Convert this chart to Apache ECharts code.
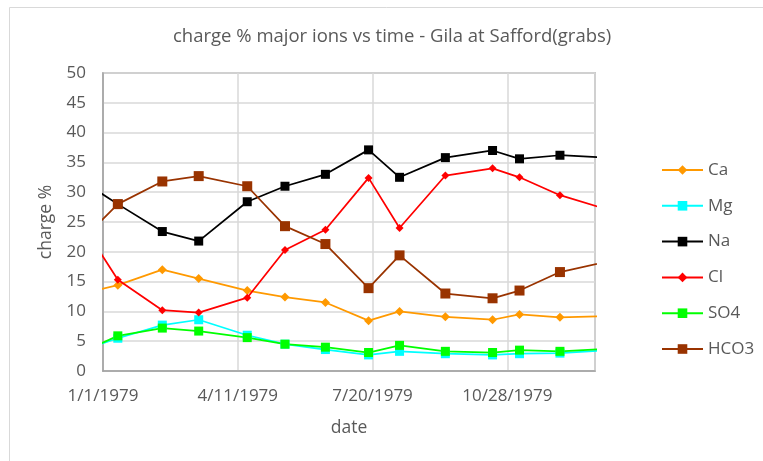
<!DOCTYPE html>
<html>
<head>
<meta charset="utf-8">
<script src="https://cdn.jsdelivr.net/npm/echarts@6/dist/echarts.min.js"></script>
<style>
html,body{margin:0;padding:0;background:#fff;}
#chart{width:763px;height:461px;}
</style>
</head>
<body>
<div id="chart"></div>
<script>
// ---- data ----
const dates = ['1978-12-13','1979-01-12','1979-02-14','1979-03-13','1979-04-18','1979-05-16','1979-06-15','1979-07-17','1979-08-09','1979-09-12','1979-10-17','1979-11-06','1979-12-06','1980-01-10'];
const Ca   = [12.8, 14.4, 17.0, 15.5, 13.5, 12.4, 11.5, 8.45, 10.0, 9.1, 8.6, 9.5, 9.0, 9.2];
const Mg   = [3.2, 5.5, 7.7, 8.6, 6.0, 4.5, 3.6, 2.7, 3.3, 2.9, 2.7, 2.9, 3.0, 3.5];
const Na   = [32.4, 28.0, 23.4, 21.8, 28.4, 31.0, 33.0, 37.1, 32.5, 35.8, 37.0, 35.6, 36.2, 35.8];
const Cl   = [25.9, 15.3, 10.2, 9.8, 12.3, 20.3, 23.7, 32.4, 24.0, 32.8, 34.0, 32.5, 29.5, 27.1];
const SO4  = [2.8, 5.9, 7.2, 6.7, 5.6, 4.5, 4.0, 3.1, 4.3, 3.3, 3.1, 3.5, 3.3, 3.7];
const HCO3 = [21.2, 28.0, 31.8, 32.7, 31.0, 24.3, 21.3, 13.9, 19.4, 13.0, 12.2, 13.5, 16.6, 18.35];
const xStart = '1979-01-01';
const xEnd = '1980-01-01';
const xTickDays = 100;
const yTicks = [0,5,10,15,20,25,30,35,40,45,50];

// ---- helpers ----
const DAY = 86400000;
function toUTC(s){ const p = s.split('-').map(Number); return Date.UTC(p[0], p[1]-1, p[2]); }
const base = toUTC(xStart);
function dayOf(s){ return (toUTC(s) - base) / DAY; }
function fmt(d){ const t = new Date(base + d*DAY); return (t.getUTCMonth()+1) + '/' + t.getUTCDate() + '/' + t.getUTCFullYear(); }
const xs = dates.map(dayOf);
function pairs(vals){ return vals.map((v,i)=>[xs[i], v]); }

const FONT = '"Open Sans", "Noto Sans", sans-serif';
const TXT = '#595959';

const defs = [
  {name:'Ca',   vals:Ca,   color:'#FF9900', symbol:'diamond', size:9},
  {name:'Mg',   vals:Mg,   color:'#00FFFF', symbol:'rect',    size:9},
  {name:'Na',   vals:Na,   color:'#000000', symbol:'rect',    size:9},
  {name:'Cl',   vals:Cl,   color:'#FF0000', symbol:'diamond', size:8},
  {name:'SO4',  vals:SO4,  color:'#00FF00', symbol:'rect',    size:9},
  {name:'HCO3', vals:HCO3, color:'#993300', symbol:'rect',    size:10}
];

const chart = echarts.init(document.getElementById('chart'), null, {renderer:'canvas'});
chart.setOption({
  animation:false,
  backgroundColor:'#fff',
  graphic:[{type:'rect', left:7, top:5, shape:{width:800, height:500}, style:{fill:'none', stroke:'#d9d9d9', lineWidth:1}, silent:true}],
  title:{
    text:'charge % major ions vs time - Gila at Safford(grabs)',
    left:168, top:22,
    textStyle:{fontFamily:FONT, fontSize:18.5, fontWeight:'normal', color:TXT}
  },
  legend:{
    orient:'vertical', left:656, top:156.5,
    itemWidth:41, itemHeight:12, itemGap:18.8,
    textStyle:{fontFamily:FONT, fontSize:17, color:TXT},
    data: defs.map(d=>d.name)
  },
  grid:{left:103, right:168, top:73, bottom:90, show:true, borderColor:'#a0a0a0', borderWidth:1.5},
  xAxis:{
    type:'value', min:dayOf(xStart), max:dayOf(xEnd), interval:xTickDays,
    name:'date', nameLocation:'middle', nameGap:48,
    nameTextStyle:{fontFamily:FONT, fontSize:17.5, color:TXT},
    axisLine:{show:true, lineStyle:{color:'#a0a0a0', width:1.5}},
    axisTick:{show:false},
    axisLabel:{fontFamily:FONT, fontSize:17, color:TXT, margin:17, showMaxLabel:false, formatter:(v)=>fmt(v)},
    splitLine:{show:true, lineStyle:{color:'#d9d9d9', width:1.5}}
  },
  yAxis:{
    type:'value', min:yTicks[0], max:yTicks[yTicks.length-1], interval:yTicks[1]-yTicks[0],
    name:'charge %', nameLocation:'middle', nameGap:48,
    nameTextStyle:{fontFamily:FONT, fontSize:17.5, color:TXT},
    axisLine:{show:true, lineStyle:{color:'#a0a0a0', width:1.5}},
    axisTick:{show:false},
    axisLabel:{fontFamily:FONT, fontSize:17, color:TXT, margin:17},
    splitLine:{show:true, lineStyle:{color:'#d9d9d9', width:1.5}}
  },
  series: defs.map(d=>({
    name:d.name, type:'line', data:pairs(d.vals),
    symbol:d.symbol, symbolSize:d.size, showAllSymbol:true, clip:true,
    lineStyle:{color:d.color, width:1.75},
    itemStyle:{color:d.color, borderWidth:0},
    emphasis:{disabled:true}
  }))
});
</script>
</body>
</html>
